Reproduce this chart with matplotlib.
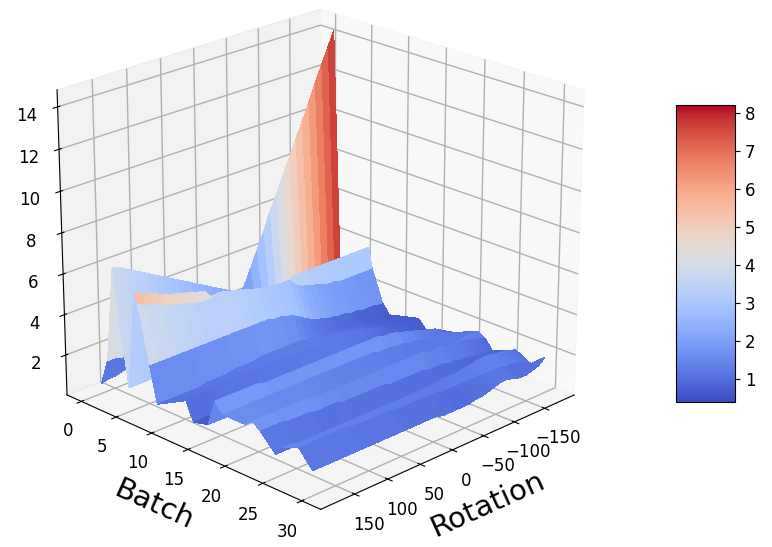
import numpy as np
import matplotlib
matplotlib.use('Agg')
import matplotlib.pyplot as plt
from matplotlib import cm

plt.rcParams['grid.linewidth'] = 1.0

batches = [0, 1, 2, 4, 5, 5.5, 7, 8, 12, 13, 15, 16, 17, 20, 21, 22, 24, 25, 27, 28.8]
rotations = np.linspace(-197, 170, 36)

# one list per batch row, rotation -197 to 170
b00 = [14.0,13.2,12.4,11.6,10.7,9.9,9.1,8.3,7.5,6.7,5.9,5.0,4.2,3.4,2.6,2.2,2.0,1.9,1.9,1.8,1.8,1.7,1.7,1.6,1.5,1.4,1.3,1.2,1.1,1.0,0.9,0.8,0.7,0.6,0.6,0.5]
b01 = [1.7,1.6,1.5,1.4,1.3,1.3,1.2,1.2,1.2,1.2,1.1,1.1,1.1,1.1,1.1,1.1,1.1,1.1,1.1,1.1,1.2,1.2,1.2,1.3,1.3,1.3,1.4,1.4,1.5,1.5,1.6,1.6,1.7,1.7,1.8,1.8]
b02 = [1.6,1.6,1.6,1.6,1.7,1.7,1.7,1.8,1.8,1.8,1.9,2.0,2.1,2.2,2.3,2.5,2.7,2.9,3.2,3.4,3.6,3.8,4.0,4.2,4.4,4.6,4.8,5.0,5.2,5.4,5.6,5.8,6.0,6.2,6.4,6.5]
b04 = [1.0,1.0,1.0,1.0,1.0,1.0,1.0,1.0,1.0,1.0,1.0,1.0,1.0,1.0,0.9,0.9,0.9,0.9,0.9,0.9,0.9,0.9,0.9,0.9,0.9,0.9,0.9,0.9,0.9,0.9,0.9,0.9,0.9,0.9,0.9,0.9]
b05 = [3.6,3.6,3.6,3.6,3.6,3.6,3.6,3.6,3.6,3.6,3.6,3.6,3.6,3.2,3.2,3.2,3.3,3.3,3.4,3.5,3.5,3.6,3.7,3.8,4.1,4.5,4.6,4.7,4.8,4.9,5.0,5.1,5.3,5.4,5.5,5.7]
b055 = [2.6,2.6,2.6,2.6,2.6,2.6,2.7,2.7,2.8,2.9,3.0,3.1,3.3,3.6,3.6,3.6,3.7,3.7,3.8,3.9,4.0,4.1,4.2,4.3,4.3,4.2,4.2,4.3,4.4,4.5,4.6,4.7,4.9,5.0,5.1,5.3]
b07 = [1.0,1.0,1.0,1.0,1.1,1.1,1.2,1.2,1.3,1.4,1.5,1.6,1.8,2.0,2.2,2.3,2.4,2.4,2.5,2.5,2.5,2.5,2.5,2.5,2.5,2.5,2.5,2.5,2.5,2.5,2.5,2.5,2.5,2.5,2.5,2.5]
b08 = [0.5,0.5,0.6,0.6,0.6,0.7,0.7,0.7,0.7,0.8,0.8,0.8,0.9,0.9,1.0,1.0,1.0,1.0,1.0,1.0,1.0,0.9,0.9,0.9,0.9,0.8,0.8,0.8,0.8,0.7,0.7,0.7,0.7,0.7,0.7,0.7]
b12 = [0.9,0.9,0.9,1.0,1.0,1.1,1.2,1.3,1.4,1.5,1.5,1.6,1.6,1.6,1.6,1.6,1.6,1.6,1.6,1.6,1.6,1.6,1.6,1.6,1.6,1.6,1.6,1.6,1.6,1.6,1.6,1.6,1.5,1.5,1.5,1.5]
b13 = [0.5,0.6,0.6,0.6,0.7,0.7,0.7,0.7,0.8,0.8,0.8,0.8,0.8,0.9,0.9,0.9,0.9,0.9,0.9,0.8,0.8,0.8,0.8,0.8,0.8,0.7,0.7,0.7,0.7,0.7,0.7,0.6,0.6,0.6,0.6,0.6]
b15 = [0.5,0.5,0.6,0.6,0.6,0.7,0.7,0.8,0.8,0.9,0.9,1.0,1.0,1.0,1.0,1.0,1.0,1.0,1.0,1.0,1.0,1.0,0.9,0.9,0.9,0.9,0.9,0.9,0.9,0.8,0.8,0.8,0.8,0.8,0.8,0.8]
b16 = [0.8,1.0,1.2,1.3,1.4,1.5,1.6,1.7,1.8,1.9,1.9,2.0,2.0,2.0,2.0,2.0,2.0,2.0,2.0,2.0,2.0,2.0,2.0,2.0,2.0,2.0,2.0,2.0,2.0,2.1,2.1,2.1,2.1,2.1,2.1,2.1]
b17 = [0.9,1.0,1.1,1.1,1.2,1.2,1.3,1.3,1.4,1.4,1.5,1.5,1.5,1.6,1.6,1.6,1.6,1.6,1.6,1.6,1.6,1.6,1.6,1.6,1.6,1.6,1.6,1.6,1.6,1.6,1.6,1.6,1.6,1.6,1.6,1.6]
b20 = [1.4,1.4,1.4,1.3,1.3,1.3,1.2,1.2,1.1,1.1,1.1,1.1,1.1,1.1,1.1,1.1,1.1,1.1,1.2,1.2,1.2,1.3,1.3,1.3,1.4,1.4,1.4,1.4,1.5,1.5,1.5,1.5,1.6,1.6,1.6,1.6]
b21 = [1.2,1.3,1.4,1.5,1.5,1.6,1.6,1.7,1.7,1.7,1.8,1.8,1.8,1.8,1.8,1.8,1.8,1.8,1.8,1.8,1.8,1.8,1.8,1.8,1.8,1.8,1.8,1.9,1.9,1.9,1.9,1.9,1.9,1.9,1.9,1.9]
b22 = [0.7,0.7,0.8,0.8,0.9,0.9,1.0,1.0,1.1,1.1,1.1,1.2,1.2,1.2,1.2,1.2,1.2,1.3,1.3,1.3,1.3,1.3,1.3,1.3,1.4,1.4,1.4,1.4,1.5,1.5,1.5,1.5,1.6,1.6,1.6,1.6]
b24 = [1.0,1.0,1.0,1.0,0.9,0.9,0.9,0.9,0.9,0.9,0.9,0.9,0.9,0.9,0.9,0.9,0.9,0.9,0.9,0.9,0.9,0.9,0.9,0.9,0.9,0.8,0.8,0.8,0.8,0.8,0.8,0.8,0.8,0.8,0.8,0.8]
b25 = [1.2,1.3,1.4,1.4,1.5,1.5,1.5,1.4,1.4,1.3,1.3,1.3,1.3,1.2,1.2,1.2,1.2,1.2,1.2,1.2,1.2,1.2,1.2,1.2,1.2,1.2,1.2,1.2,1.2,1.2,1.2,1.2,1.2,1.2,1.3,1.3]
b27 = [0.8,1.0,1.1,1.2,1.2,1.3,1.3,1.3,1.3,1.3,1.3,1.3,1.3,1.3,1.3,1.4,1.4,1.4,1.4,1.4,1.4,1.4,1.5,1.5,1.5,1.5,1.5,1.5,1.6,1.6,1.6,1.6,1.6,1.6,1.6,1.6]
b30 = [1.4,1.1,1.0,0.9,0.9,1.0,1.1,1.1,1.0,0.9,0.8,0.8,0.7,0.7,0.7,0.7,0.7,0.8,0.8,0.8,0.8,0.8,0.8,0.8,0.8,0.8,0.8,0.8,0.8,0.8,0.8,0.8,0.8,0.8,0.8,0.8]

z = np.array([b00, b01, b02, b04, b05, b055, b07, b08, b12, b13, b15, b16, b17, b20, b21, b22, b24, b25, b27, b30])
Y, X = np.meshgrid(batches, rotations, indexing='ij')

fig = plt.figure(figsize=(7.72, 5.47), dpi=100)
ax = fig.add_axes([-0.02, -0.003, 0.85, 1.08], projection='3d')
surf = ax.plot_surface(X, Y, z, cmap=cm.coolwarm, linewidth=0, antialiased=False, vmin=0.4, vmax=8.2)
ax.view_init(elev=22, azim=45)
ax.set_xlim(-200, 200)
ax.set_ylim(-2.1, 32.4)
ax.set_zlim(0, 14.8)
ax.set_box_aspect((4, 4, 3.6), zoom=1.007)

ax.set_yticks([0, 5, 10, 15, 20, 25, 30])
ax.set_xticks([-150, -100, -50, 0, 50, 100, 150])
ax.set_zticks([2, 4, 6, 8, 10, 12, 14])
ax.tick_params(labelsize=12)
ax.tick_params(axis='z', pad=5)
ax.set_ylabel('Batch', fontsize=21, labelpad=8)
ax.set_xlabel('Rotation', fontsize=21, labelpad=8)

cax = fig.add_axes([0.876, 0.265, 0.076, 0.543])
cbar = fig.colorbar(surf, cax=cax)
cbar.ax.tick_params(labelsize=12)

plt.savefig('out.png', dpi=100)
